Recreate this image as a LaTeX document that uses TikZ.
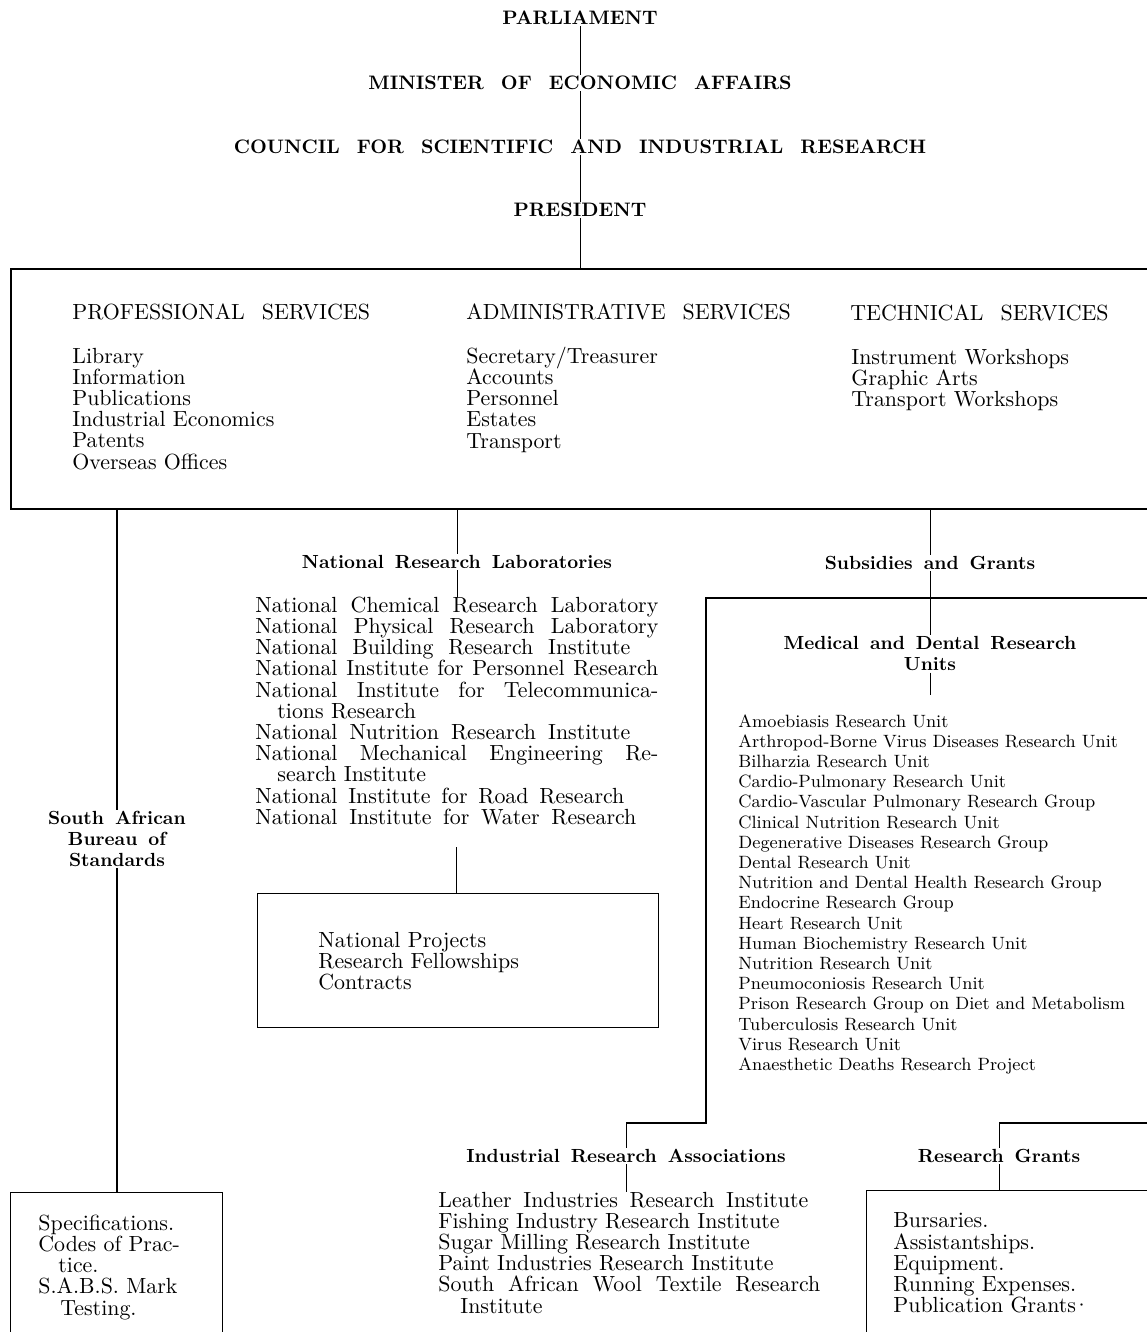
\documentclass[tikz,border=0pt]{standalone}

\newcommand\headfont{\fontsize{9.75}{10.5}\selectfont\bfseries\spaceskip=8.5pt plus 1.5pt\relax}
\newcommand\subfont{\fontsize{9.5}{10.5}\selectfont\bfseries\spaceskip=5.5pt plus 1pt\relax}
\newcommand\svcfont{\fontsize{10.95}{12}\selectfont\spaceskip=8.5pt plus 1pt\relax}
\newcommand\listfont{\fontsize{10.95}{10.6}\selectfont\lineskiplimit=-5pt\relax}
\newcommand\unitfont{\fontsize{8.9}{10.1}\selectfont\lineskiplimit=-5pt\relax}
\newcommand\fullline[2][201.5pt]{\makebox[#1][s]{#2}}

\begin{document}
\begin{tikzpicture}[x=0.5pt,y=-0.5pt,
  head/.style={font=\headfont,inner sep=0.5pt},
  subhead/.style={font=\subfont,inner sep=0.5pt,align=center},
  svchead/.style={font=\svcfont,inner sep=0pt,anchor=west},
  list/.style={font=\listfont,inner sep=0pt,anchor=north west,align=left},
  units/.style={font=\unitfont,inner sep=0pt,anchor=north west,align=left},
  box/.style={draw,line width=0.7pt,inner sep=0pt,anchor=north west},
  thin line/.style={line width=0.5pt},
  heavy/.style={line width=1.1pt}]

\useasboundingbox (0,0) rectangle (1146,1332);
\fill[white] (0,0) rectangle (1146,1332);

% chain of command
\node[head] (parl) at (580,18) {PARLIAMENT};
\node[head] (minister) at (580,83) {MINISTER OF ECONOMIC AFFAIRS};
\node[head] (council) at (580,147) {COUNCIL FOR SCIENTIFIC AND INDUSTRIAL RESEARCH};
\node[head] (president) at (580,210) {PRESIDENT};

% services
\node[box,heavy,minimum width=575pt,minimum height=120pt] (svc) at (10,268) {};
\node[svchead] (prof) at (72,312) {PROFESSIONAL SERVICES};
\node[svchead] (adm) at (466,312) {ADMINISTRATIVE SERVICES};
\node[svchead] (tech) at (850,313) {TECHNICAL SERVICES};
\node[list] (proflist) at (72,347.5) {Library\\Information\\Publications\\Industrial Economics\\Patents\\Overseas Offices};
\node[list] (admlist) at (466,346.5) {Secretary/Treasurer\\Accounts\\Personnel\\Estates\\Transport};
\node[list] (techlist) at (851,348.5) {Instrument Workshops\\Graphic Arts\\Transport Workshops};

\draw[thin line] (parl) -- (minister) (minister) -- (council) (council) -- (president)
  (president) -- (president |- svc.north);

% standards
\node[subhead] (sabs) at (117,839) {South African\\Bureau of\\Standards};
\node[box,minimum width=106pt,minimum height=80pt] (sabsbox) at (10,1192) {};
\node[list] (sabslist) at (38,1214.5) {Specifications.\\Codes of Prac-\\\hspace*{10pt}tice.\\S.A.B.S. Mark\\\hspace*{11pt}Testing.};
\draw[heavy] (svc.south -| sabs) -- (sabs) (sabs) -- (sabs |- sabsbox.north);

% laboratories
\node[subhead] (nrl) at (457,562) {National Research Laboratories};
\node[list] (labs) at (255,596.5) {\fullline{National Chemical Research Laboratory}\\
  \fullline{National Physical Research Laboratory}\\
  \fullline[187.5pt]{National Building Research Institute}\\
  \fullline{National Institute for Personnel Research}\\
  \fullline{National Institute for Telecommunica-}\\
  \hspace*{11pt}tions Research\\
  \fullline[187.5pt]{National Nutrition Research Institute}\\
  \fullline{National Mechanical Engineering Re-}\\
  \hspace*{11pt}search Institute\\
  \fullline[184.5pt]{National Institute for Road Research}\\
  \fullline[190.5pt]{National Institute for Water Research}};
\node[box,minimum width=200.5pt,minimum height=67pt] (proj) at (257,893) {};
\node[list] (projlist) at (318,931.5) {National Projects\\Research Fellowships\\Contracts};
\draw[thin line] (svc.south -| nrl) -- (nrl) (nrl) -- (nrl |- labs.north);
\draw[thin line] ([yshift=-11pt]labs.south) -- (labs.south |- proj.north);

% subsidies and grants
\node[subhead] (subs) at (930,563) {Subsidies and Grants};
\node[subhead] (med) at (930,654) {Medical and Dental Research\\Units};
\node[units] (medlist) at (738,714) {Amoebiasis Research Unit\\
  Arthropod-Borne Virus Diseases Research Unit\\
  Bilharzia Research Unit\\
  Cardio-Pulmonary Research Unit\\
  Cardio-Vascular Pulmonary Research Group\\
  Clinical Nutrition Research Unit\\
  Degenerative Diseases Research Group\\
  Dental Research Unit\\
  Nutrition and Dental Health Research Group\\
  Endocrine Research Group\\
  Heart Research Unit\\
  Human Biochemistry Research Unit\\
  Nutrition Research Unit\\
  Pneumoconiosis Research Unit\\
  Prison Research Group on Diet and Metabolism\\
  Tuberculosis Research Unit\\
  Virus Research Unit\\
  Anaesthetic Deaths Research Project};
\node[subhead] (indus) at (626,1156) {Industrial Research Associations};
\node[list] (induslist) at (438,1191.5) {\fullline[185pt]{Leather Industries Research Institute}\\
  Fishing Industry Research Institute\\
  Sugar Milling Research Institute\\
  Paint Industries Research Institute\\
  \fullline[191pt]{South African Wool Textile Research}\\
  \hspace*{11pt}Institute};
\node[subhead] (rgrants) at (999,1156) {Research Grants};
\node[box,minimum width=150pt,minimum height=80pt] (rgbox) at (866,1190) {};
\node[list] (rglist) at (893,1212.5) {Bursaries.\\Assistantships.\\Equipment.\\Running Expenses.\\Publication Grants\kern-1.5pt\textperiodcentered};

\coordinate (busL) at (706,598);
\coordinate (busR) at (1160,598);
\coordinate (corner) at (706,1123);
\coordinate (rgR) at (1160,1123);

\draw[thin line] (svc.south -| subs) -- (subs) (subs) -- (subs |- busL);
\draw[heavy] (busR) -- (busL) -- (corner) -- (corner -| indus);
\draw[thin line] (subs |- busL) -- (med) (med.south) -- ++(0,22);
\draw[thin line] (corner -| indus) -- (indus) (indus) -- (indus |- induslist.north);
\draw[heavy] (rgR) -- (rgR -| rgrants);
\draw[thin line] (rgR -| rgrants) -- (rgrants) (rgrants) -- (rgrants |- rgbox.north);

\end{tikzpicture}
\end{document}
